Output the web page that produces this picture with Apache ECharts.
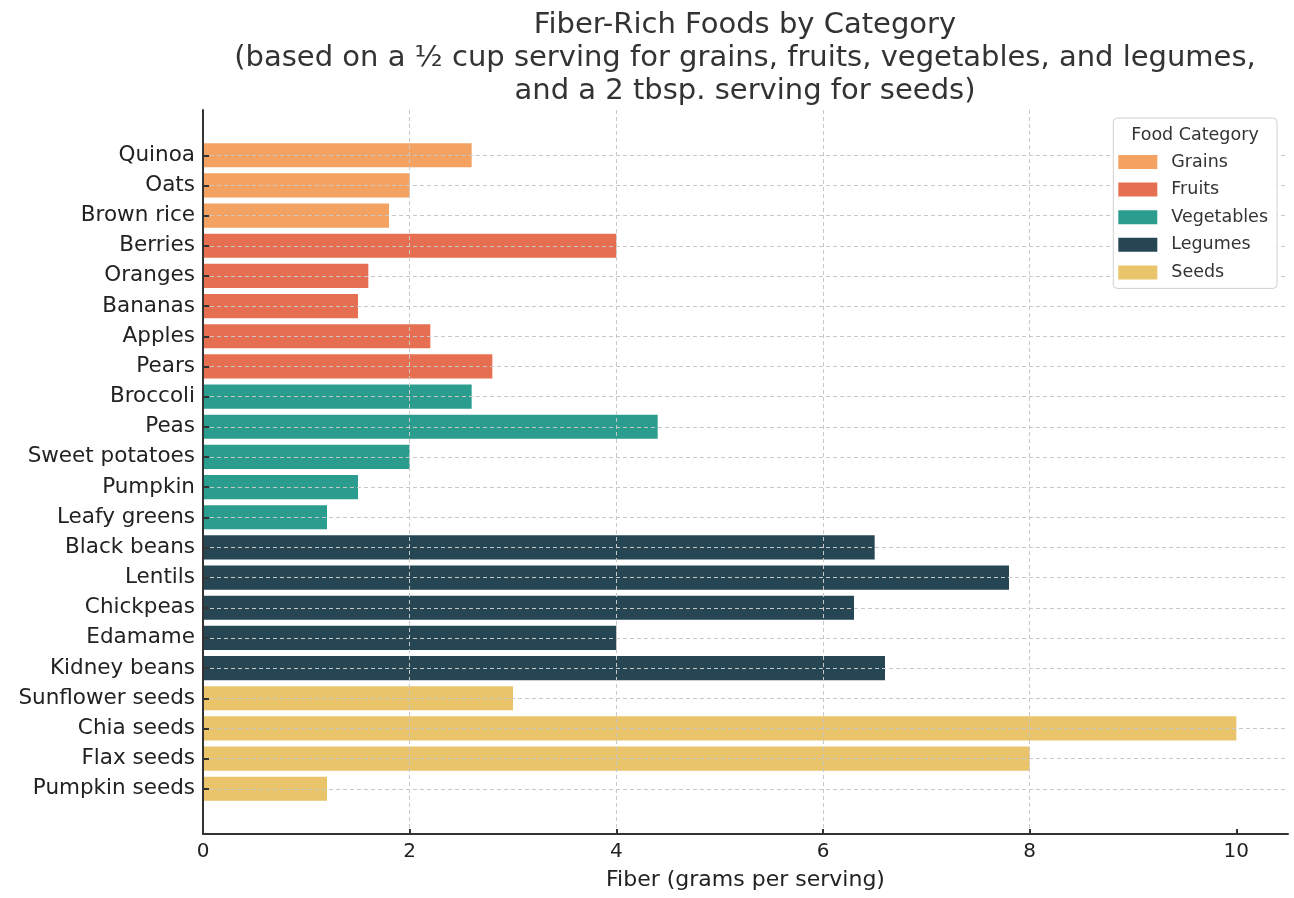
<!DOCTYPE html>
<html>
<head>
<meta charset="utf-8">
<script src="https://cdn.jsdelivr.net/npm/echarts@6/dist/echarts.min.js"></script>
<style>
  html, body { margin: 0; padding: 0; background: #ffffff; }
  #chart { width: 1294px; height: 898px; }
</style>
</head>
<body>
<div id="chart"></div>
<script>
// food items, top to bottom
const foods = [
    'Quinoa', 'Oats', 'Brown rice',
    'Berries', 'Oranges', 'Bananas', 'Apples', 'Pears',
    'Broccoli', 'Peas', 'Sweet potatoes', 'Pumpkin', 'Leafy greens',
    'Black beans', 'Lentils', 'Chickpeas', 'Edamame', 'Kidney beans',
    'Sunflower seeds', 'Chia seeds', 'Flax seeds', 'Pumpkin seeds'
];
// fiber in grams per serving
const fiber = [
    2.6, 2.0, 1.8,
    4.0, 1.6, 1.5, 2.2, 2.8,
    2.6, 4.4, 2.0, 1.5, 1.2,
    6.5, 7.8, 6.3, 4.0, 6.6,
    3.0, 10.0, 8.0, 1.2
];
// which category each food belongs to
const foodCategory = [
    'Grains', 'Grains', 'Grains',
    'Fruits', 'Fruits', 'Fruits', 'Fruits', 'Fruits',
    'Vegetables', 'Vegetables', 'Vegetables', 'Vegetables', 'Vegetables',
    'Legumes', 'Legumes', 'Legumes', 'Legumes', 'Legumes',
    'Seeds', 'Seeds', 'Seeds', 'Seeds'
];
const categoryNames = ['Grains', 'Fruits', 'Vegetables', 'Legumes', 'Seeds'];
const categoryColors = ['#f4a261', '#e76f51', '#2a9d8f', '#264653', '#e9c46a'];
const xTicks = [0, 2, 4, 6, 8, 10];

const titleLines = [
    'Fiber-Rich Foods by Category',
    '(based on a ½ cup serving for grains, fruits, vegetables, and legumes,',
    'and a 2 tbsp. serving for seeds)'
];

const FONT = '"DejaVu Sans", "Noto Sans", sans-serif';

// empty slot at each end gives the matplotlib-like margin above/below the bars
const yCats = [''].concat(foods, ['']);

const series = categoryNames.map((cat, ci) => ({
    name: cat,
    type: 'bar',
    barWidth: '80%',
    barGap: '-100%',
    itemStyle: { color: categoryColors[ci] },
    data: yCats.map((f, i) => {
        const k = i - 1;
        if (k < 0 || k >= foods.length) return '-';
        return foodCategory[k] === cat ? fiber[k] : '-';
    })
}));

const chart = echarts.init(document.getElementById('chart'));

chart.setOption({
    backgroundColor: '#ffffff',
    animation: false,
    grid: { left: 203, right: 6, top: 110, bottom: 64, containLabel: false },
    xAxis: {
        type: 'value',
        min: 0,
        max: 10.5,
        interval: 2,
        z: 3,
        name: 'Fiber (grams per serving)',
        nameLocation: 'middle',
        nameGap: 35,
        nameTextStyle: { fontFamily: FONT, fontSize: 22, color: '#222' },
        axisLine: { show: true, lineStyle: { color: '#333', width: 2 } },
        axisTick: { show: true, inside: true, length: 5, customValues: xTicks,
            lineStyle: { color: '#333', width: 2 } },
        axisLabel: { fontFamily: FONT, fontSize: 20, color: '#222', margin: 8,
            formatter: v => (v > 10 ? '' : String(v)) },
        splitLine: { show: true, showMaxLine: false,
            lineStyle: { color: '#c8c8c8', type: [4, 3], width: 1 } }
    },
    yAxis: {
        type: 'category',
        data: yCats,
        inverse: true,
        z: 3,
        axisLine: { show: true, lineStyle: { color: '#333', width: 2 } },
        axisTick: { show: true, inside: true, length: 6, alignWithLabel: true,
            interval: (idx, val) => val !== '',
            lineStyle: { color: '#333', width: 2 } },
        axisLabel: { fontFamily: FONT, fontSize: 21.5, color: '#222', margin: 8, interval: 0 },
        splitLine: { show: true, alignWithLabel: true,
            interval: (idx, val) => val !== '',
            lineStyle: { color: '#c8c8c8', type: [4, 3], width: 1 } }
    },
    legend: {
        orient: 'vertical',
        right: 17,
        top: 118,
        padding: [35, 9, 7, 5],
        itemWidth: 39,
        itemHeight: 14,
        itemGap: 9.6,
        icon: 'rect',
        backgroundColor: '#ffffff',
        borderColor: '#d0d0d0',
        borderWidth: 1,
        borderRadius: 4,
        z: 10,
        textStyle: { fontFamily: FONT, fontSize: 17.5, lineHeight: 18, color: '#333',
            padding: [0, 0, 0, 9] },
        data: categoryNames
    },
    graphic: [
        {
            type: 'text',
            x: 745,
            y: 9,
            style: {
                text: titleLines.join('\n'),
                fontFamily: FONT,
                fontSize: 29,
                lineHeight: 33,
                fill: '#333',
                textAlign: 'center',
                textVerticalAlign: 'top'
            }
        },
        {
            type: 'text',
            x: 1195,
            y: 135,
            z: 20,
            style: {
                text: 'Food Category',
                fontFamily: FONT,
                fontSize: 17.5,
                fill: '#333',
                textAlign: 'center',
                textVerticalAlign: 'middle'
            }
        }
    ],
    series: series
});
</script>
</body>
</html>
